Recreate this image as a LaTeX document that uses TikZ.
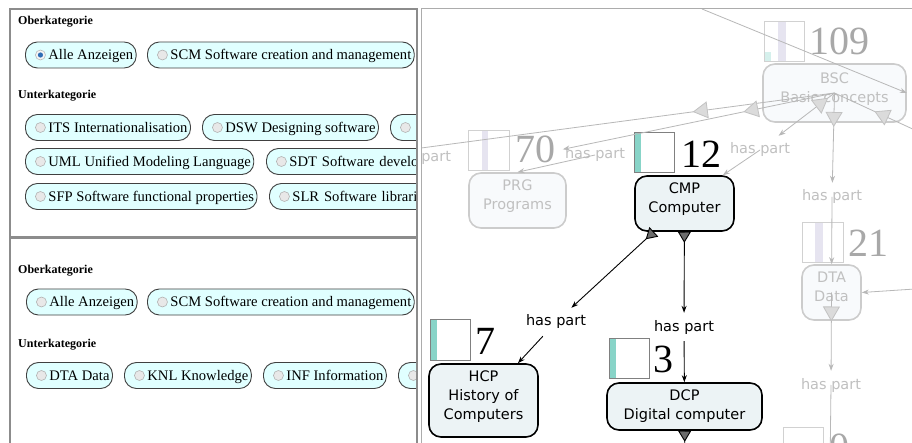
\documentclass[tikz,border=0pt]{standalone}
\usepackage{fontspec}
\setmainfont{Liberation Serif}
\setsansfont{DejaVu Sans}
\usetikzlibrary{arrows.meta,decorations.markings}

\definecolor{pillcyan}{HTML}{E0FFFF}
\definecolor{panelgray}{HTML}{8C8C8C}
\definecolor{nodefill}{HTML}{ECF3F5}
\definecolor{fadefill}{HTML}{F8FAFC}
\definecolor{fadeline}{HTML}{B8B8B8}
\definecolor{fadetext}{HTML}{C0C0C0}
\definecolor{fadenum}{HTML}{A8A8A8}
\definecolor{barteal}{HTML}{88D4C8}
\definecolor{barlav}{HTML}{E6E4F0}
\definecolor{radioblue}{HTML}{2F6DB5}

\tikzset{
  panelframe/.style={draw=panelgray, line width=2.2pt},
  rightframe/.style={draw=gray!65, line width=1pt},
  heading/.style={anchor=base west, inner sep=0pt, font=\fontsize{12}{14}\selectfont\bfseries},
  pill/.style={draw=black!75, fill=pillcyan, line width=0.9pt, rounded corners=12pt,
    minimum height=26pt, inner xsep=3pt, inner ysep=0pt, text height=12.8pt, text depth=3.2pt,
    anchor=west, font=\fontsize{14.6}{17}\selectfont,
    path picture={\draw[draw=gray!60, fill=gray!18, line width=0.6pt] ([xshift=15pt]path picture bounding box.west) circle (5pt);}},
  pillon/.style={pill,
    path picture={\draw[draw=gray!55, fill=gray!8, line width=0.6pt] ([xshift=15pt]path picture bounding box.west) circle (5pt);
      \fill[radioblue] ([xshift=15pt]path picture bounding box.west) circle (2.6pt);}},
  pillcut/.style={pill, text width=200pt, align=left},
  gnode/.style={draw=black, line width=1.6pt, fill=nodefill, rounded corners=12pt, align=center,
    inner sep=0pt, font=\fontsize{14.5}{19}\selectfont\sffamily},
  gfaded/.style={gnode, draw=black!20, fill=fadefill, text=fadetext},
  raised/.style={text depth=11pt},
  haspart/.style={inner xsep=2pt, inner ysep=7pt, font=\fontsize{14.5}{17}\selectfont\sffamily},
  fadedlabel/.style={haspart, text=fadetext},
  count/.style={anchor=west, inner sep=0pt, font=\fontsize{40}{40}\selectfont},
  fadedcount/.style={count, text=fadenum},
  histframe/.style={draw=black!50, line width=0.8pt},
  histfade/.style={draw=black!18, line width=0.8pt},
  actedge/.style={draw=black, line width=0.9pt, -{Stealth[length=7pt,width=5pt]}},
  tailedge/.style={actedge, {Triangle[reversed,length=11pt,width=13pt,fill=black!58]}-{Stealth[length=7pt,width=5pt]}},
  fadeedge/.style={draw=fadeline, line width=0.8pt, -{Stealth[length=7pt,width=5pt]}},
  fademark/.style={postaction={decorate}, decoration={markings, mark=at position #1 with
    {\arrow{Triangle[length=15pt,width=17pt,color=black!24,fill=black!14]}}}},
  fademarkback/.style={postaction={decorate}, decoration={markings, mark=at position #1 with
    {\arrowreversed{Triangle[length=15pt,width=17pt,color=black!24,fill=black!14]}}}}
}

\begin{document}
\begin{tikzpicture}[x=1pt,y=-1pt]
  \useasboundingbox (0,0) rectangle (912,443);
  \fill[white] (0,0) rectangle (912,443);

  \begin{scope}
    \clip (10,9) rectangle (416.5,443);
    \node[heading] (ob1) at (18,25) {Oberkategorie};
    \node[pillon] (p1all) at (25,55) {\hspace*{20pt}Alle Anzeigen};
    \node[pill] (p1scm) at (147,55) {\hspace*{20pt}SCM Software creation and management};
    \node[heading] (ub1) at (18,99) {Unterkategorie};
    \node[pill] (u1its) at (25,127.5) {\hspace*{20pt}ITS Internationalisation};
    \node[pill] (u1dsw) at (202,127.5) {\hspace*{20pt}DSW Designing software};
    \node[pill, minimum width=60pt] (u1cut) at (390,127.5) {\hspace*{20pt}};
    \node[pill] (u1uml) at (25,161.5) {\hspace*{20pt}UML Unified Modeling Language};
    \node[pillcut] (u1sdt) at (266,161.5) {\hspace*{20pt}SDT Software develo};
    \node[pill] (u1sfp) at (25,196.5) {\hspace*{20pt}SFP Software functional properties};
    \node[pillcut] (u1slr) at (269,196.5) {\hspace*{20pt}SLR Software librari};

    \node[heading] (ob2) at (18,274) {Oberkategorie};
    \node[pill] (p2all) at (26,302) {\hspace*{20pt}Alle Anzeigen};
    \node[pill] (p2scm) at (147,302) {\hspace*{20pt}SCM Software creation and management};
    \node[heading] (ub2) at (18,347) {Unterkategorie};
    \node[pill] (u2dta) at (26,375.5) {\hspace*{20pt}DTA Data};
    \node[pill] (u2knl) at (124,375.5) {\hspace*{20pt}KNL Knowledge};
    \node[pill] (u2inf) at (263,375.5) {\hspace*{20pt}INF Information};
    \node[pill, minimum width=60pt] (u2cut) at (398,375.5) {\hspace*{20pt}};
  \end{scope}

  \draw[panelframe] (10,443) -- (10,9) -- (417,9) -- (417,443);
  \draw[panelframe] (10,237.5) -- (417,237.5);
  \draw[rightframe] (421,443) -- (421,9) -- (912,9);

  \begin{scope}
    \clip (421.5,9.5) rectangle (912,443);
    \fill[barlav] (778,21) rectangle (786,61);
    \fill[barteal!35] (765,52) rectangle (771,61);
    \draw[histfade] (764,21) rectangle (804,61);
    \node[fadedcount] (cntBSC) at (809,41) {109};
    \node[gfaded, raised, minimum width=143pt, minimum height=58pt] (bsc) at (834.5,93) {BSC\\Basic concepts};

    \fill[barlav] (482,130) rectangle (488,170);
    \draw[histfade] (468,130) rectangle (509,170);
    \node[fadedcount] (cntPRG) at (515,149) {70};
    \node[gfaded, raised, minimum width=97pt, minimum height=55pt] (prg) at (517.5,200.5) {PRG\\Programs};

    \fill[barlav] (815,222) rectangle (823,262);
    \draw[histfade] (802,222) rectangle (843,262);
    \node[fadedcount] (cntDTA) at (848,243) {21};
    \node[gfaded, raised, minimum width=59pt, minimum height=55pt] (dta) at (831.5,292.5) {DTA\\Data};

    \draw[histfade] (783,427) rectangle (823,467);
    \node[fadedcount] (cntLow) at (829,447) {0};

    \fill[barteal] (634,132) rectangle (640.5,172);
    \draw[histframe] (634,132) rectangle (674,172);
    \node[count] (cntCMP) at (681,154) {12};
    \node[gnode, raised, minimum width=99pt, minimum height=55pt] (cmp) at (684.5,203.5) {CMP\\Computer};

    \fill[barteal] (430,319) rectangle (436.5,360);
    \draw[histframe] (430,319) rectangle (470,360);
    \node[count] (cntHCP) at (475,341) {7};
    \node[gnode, raised, minimum width=109pt, minimum height=73pt] (hcp) at (483.5,400.5) {HCP\\History of\\Computers};

    \fill[barteal] (609,338) rectangle (615.5,378);
    \draw[histframe] (609,338) rectangle (649,378);
    \node[count] (cntDCP) at (653,359) {3};
    \node[gnode, minimum width=155pt, minimum height=47pt] (dcp) at (684.5,406.5) {DCP\\Digital computer};

    \node[fadedlabel] (lblLeft) at (421,158) {has part};
    \node[fadedlabel] (lblPRG) at (595,155) {has part};
    \node[fadedlabel] (lblCMP) at (760,150) {has part};
    \node[fadedlabel] (lblDTA) at (832,197) {has part};
    \node[fadedlabel] (lblDTA2) at (831,385) {has part};
    \node[haspart] (lblHCP) at (556,322) {has part};
    \node[haspart] (lblDCP) at (684,327) {has part};

    \coordinate (inF) at (702,9);
    \coordinate (outE) at (930,137);
    \coordinate (inDTA) at (930,288);
    \coordinate (outDTA) at (830,470);
    \coordinate (outDCP) at (685,480);

    \draw[fadeedge, fademark=143pt] (bsc.center) -- (lblLeft.170);
    \draw[fadeedge, fademark=93pt] (bsc.center) -- (lblPRG.170);
    \draw[fadeedge] (lblPRG.center) -- (prg.north);
    \draw[fadeedge, fademarkback=8pt] (bsc.center) -- (lblCMP);
    \draw[fadeedge] (lblCMP.center) -- ([xshift=-12pt]cmp.north east);
    \draw[fadeedge, fademark=34pt] (bsc.center) -- (lblDTA);
    \draw[fadeedge] (lblDTA.center) -- (dta);
    \draw[fadeedge, fademarkback=44pt] (bsc.center) -- (outE);
    \draw[fadeedge] (inF) -- (bsc.east);
    \draw[fadeedge] (inDTA) -- (dta.east);
    \draw[fadeedge, fademark=29pt] (dta.center) -- (lblDTA2);
    \draw[fadeedge] (lblDTA2.center) -- (outDTA);

    \draw[tailedge] (cmp) -- (lblHCP);
    \draw[actedge] (lblHCP) -- (hcp);
    \draw[tailedge] (cmp) -- (lblDCP);
    \draw[actedge] (lblDCP) -- (dcp);
    \draw[tailedge] (dcp) -- (outDCP);
  \end{scope}
\end{tikzpicture}
\end{document}
